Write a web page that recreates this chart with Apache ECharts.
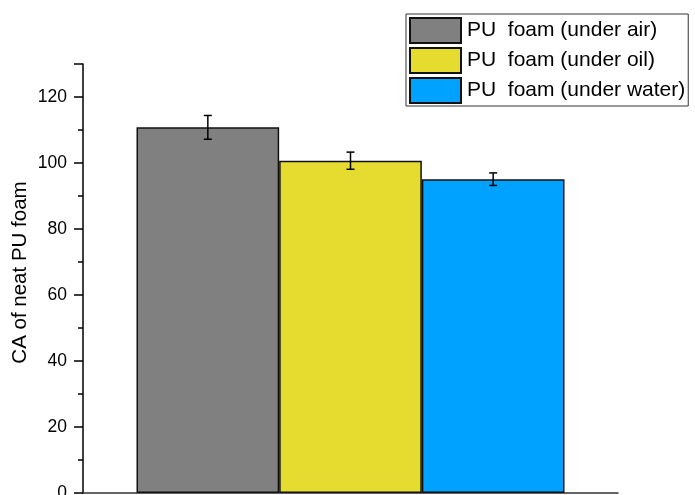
<!DOCTYPE html>
<html><head><meta charset="utf-8">
<script src="https://cdn.jsdelivr.net/npm/echarts@6/dist/echarts.min.js"></script>
<style>html,body{margin:0;padding:0;background:#fff;overflow:hidden}#c{width:695px;height:495px}</style>
</head><body><div id="c"></div>
<script>
const categories = ['CA'];
const seriesNames = ['PU  foam (under air)', 'PU  foam (under oil)', 'PU  foam (under water)'];
const means = [110.8, 100.7, 95.1];
const errors = [3.6, 2.6, 1.9];
const colors = ['#808080', '#E6DC30', '#00A2FF'];
const yTicks = [0, 20, 40, 60, 80, 100, 120];

const chart = echarts.init(document.getElementById('c'));
const font = 'Arial, "Liberation Sans", sans-serif';
const series = seriesNames.map((n, i) => ({
  name: n, type: 'bar', data: [means[i]], barGap: 0, barCategoryGap: '20%',
  itemStyle: { color: colors[i], borderColor: '#111', borderWidth: 1.5 },
  emphasis: { disabled: true }
}));
series.push({
  type: 'custom', z: 10, silent: true,
  data: means.map((m, i) => [0, m, errors[i], i]),
  renderItem: function (params, api) {
    const m = api.value(1), e = api.value(2), i = api.value(3);
    const c = api.coord([0, m]);
    const bw = api.size([1, 0])[0] * 0.8 / 3;
    const x = c[0] + (i - 1) * bw;
    const yt = api.coord([0, m + e])[1], yb = api.coord([0, m - e])[1];
    const cap = 4;
    const st = { stroke: '#000', lineWidth: 1.5 };
    return { type: 'group', children: [
      { type: 'line', shape: { x1: x, y1: yt, x2: x, y2: yb }, style: st },
      { type: 'line', shape: { x1: x - cap, y1: yt, x2: x + cap, y2: yt }, style: st },
      { type: 'line', shape: { x1: x - cap, y1: yb, x2: x + cap, y2: yb }, style: st }
    ]};
  }
});

chart.setOption({
  animation: false,
  grid: { left: 83, width: 535, top: 64, height: 429, containLabel: false, outerBoundsMode: 'none' },
  legend: {
    data: seriesNames, orient: 'vertical', left: 406, top: 14,
    itemWidth: 51, itemHeight: 25, itemGap: 3, padding: [3, 3, 2, 3],
    borderColor: '#333', borderWidth: 1, icon: 'rect',
    textStyle: { fontFamily: font, fontSize: 21, color: '#000', padding: [0, 0, 0, 1] }
  },
  xAxis: {
    type: 'category', data: categories,
    axisLine: { lineStyle: { color: '#333', width: 1.5 } },
    axisTick: { show: false }, axisLabel: { show: false }
  },
  yAxis: {
    type: 'value', min: 0, max: 130, interval: 20,
    name: 'CA of neat PU foam', nameLocation: 'middle', nameGap: 52, nameMoveOverlap: false,
    nameTextStyle: { fontFamily: font, fontSize: 20.5, color: '#000', padding: [0, 0, 0, 12] },
    axisLine: { show: true, lineStyle: { color: '#000', width: 1.5 } },
    axisTick: { show: true, length: 9, lineStyle: { width: 1.5, color: '#000' } },
    minorTick: { show: true, splitNumber: 2, length: 5, lineStyle: { width: 1.5, color: '#000' } },
    splitLine: { show: false },
    axisLabel: { fontFamily: font, fontSize: 17.5, color: '#000', margin: 16,
      formatter: v => yTicks.includes(v) ? String(v) : '' }
  },
  series: series
});
</script></body></html>
